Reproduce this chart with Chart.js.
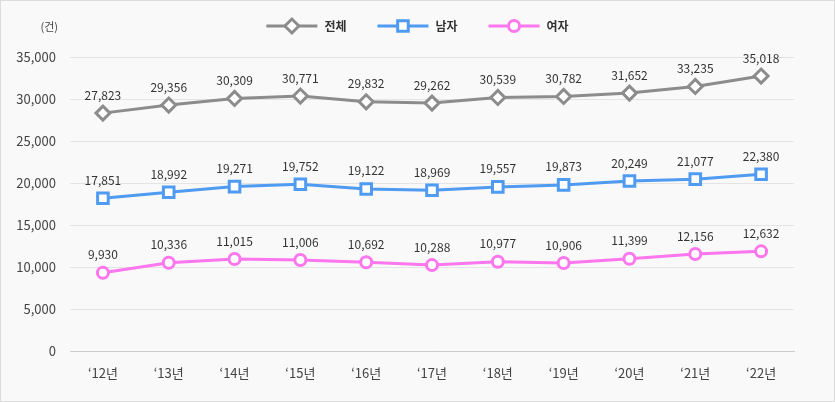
<!DOCTYPE html>
<html>
<head>
<meta charset="utf-8">
<script src="https://cdn.jsdelivr.net/npm/chart.js@4/dist/chart.umd.min.js"></script>
<style>
  body { margin: 0; background: #f9f9f9; }
  canvas { display: block; }
</style>
</head>
<body>
<canvas id="grafica" width="835" height="402"></canvas>
<script>
// datos del gráfico
const years = ['‘12년', '‘13년', '‘14년', '‘15년', '‘16년', '‘17년', '‘18년', '‘19년', '‘20년', '‘21년', '‘22년'];
const seriesNames = ['전체', '남자', '여자'];

// posiciones dibujadas
const totalValues = [28330, 29290, 30070, 30360, 29680, 29520, 30190, 30310, 30710, 31500, 32740];
const maleValues = [18210, 18930, 19600, 19880, 19320, 19170, 19560, 19800, 20270, 20480, 21070];
const femaleValues = [9360, 10550, 10990, 10870, 10600, 10270, 10670, 10510, 11020, 11580, 11900];

// etiquetas mostradas sobre cada punto
const totalLabels = ['27,823', '29,356', '30,309', '30,771', '29,832', '29,262', '30,539', '30,782', '31,652', '33,235', '35,018'];
const maleLabels = ['17,851', '18,992', '19,271', '19,752', '19,122', '18,969', '19,557', '19,873', '20,249', '21,077', '22,380'];
const femaleLabels = ['9,930', '10,336', '11,015', '11,006', '10,692', '10,288', '10,977', '10,906', '11,399', '12,156', '12,632'];

const yTicks = [0, 5000, 10000, 15000, 20000, 25000, 30000, 35000];

const FONT = "'Noto Sans CJK KR', 'Noto Sans', sans-serif";
const colores = ['#8c8c8c', '#4f9bf2', '#fc76ee'];
const estilos = ['rectRot', 'rect', 'circle'];
const radios = [7, 7.5, 5.5];
const etiquetas = [totalLabels, maleLabels, femaleLabels];

const fondo = {
    id: 'fondo',
    beforeDraw(chart) {
        const c = chart.ctx;
        c.save();
        c.fillStyle = '#f9f9f9';
        c.fillRect(0, 0, chart.width, chart.height);
        c.strokeStyle = '#dcdcdc';
        c.lineWidth = 1;
        c.strokeRect(0.5, 0.5, chart.width - 1, chart.height - 1);
        // unidad
        c.fillStyle = '#444';
        c.font = '11px ' + FONT;
        c.textAlign = 'right';
        c.textBaseline = 'middle';
        c.fillText('(건)', 58, 27);
        c.restore();
    }
};

const dibujarMarca = (c, estilo, x, y, r) => {
    c.beginPath();
    if (estilo === 'rectRot') {
        c.moveTo(x, y - r); c.lineTo(x + r, y); c.lineTo(x, y + r); c.lineTo(x - r, y); c.closePath();
    } else if (estilo === 'rect') {
        const s = r * Math.SQRT1_2;
        c.rect(x - s, y - s, 2 * s, 2 * s);
    } else {
        c.arc(x, y, r, 0, Math.PI * 2);
    }
    c.fill();
    c.stroke();
};

const leyenda = {
    id: 'leyenda',
    afterDraw(chart) {
        const c = chart.ctx;
        c.save();
        c.font = 'bold 12px ' + FONT;
        const lineLen = 51, gap = 7, sep = 31;
        const anchos = seriesNames.map(n => lineLen + gap + c.measureText(n).width);
        const total = anchos.reduce((a, b) => a + b, 0) + sep * (seriesNames.length - 1);
        let x = (chart.width - total) / 2;
        const y = 26;
        seriesNames.forEach((n, i) => {
            c.strokeStyle = colores[i];
            c.lineWidth = 3;
            c.beginPath();
            c.moveTo(x, y); c.lineTo(x + lineLen, y);
            c.stroke();
            c.fillStyle = '#fff';
            dibujarMarca(c, estilos[i], x + lineLen / 2, y, radios[i]);
            c.fillStyle = '#333';
            c.textAlign = 'left';
            c.textBaseline = 'middle';
            c.fillText(n, x + lineLen + gap, y);
            x += anchos[i] + sep;
        });
        c.restore();
    }
};

const valores = {
    id: 'valores',
    afterDatasetsDraw(chart) {
        const c = chart.ctx;
        c.save();
        c.font = '12px ' + FONT;
        c.fillStyle = '#333';
        c.textAlign = 'center';
        c.textBaseline = 'middle';
        chart.data.datasets.forEach((ds, i) => {
            chart.getDatasetMeta(i).data.forEach((p, j) => {
                c.fillText(etiquetas[i][j], p.x, p.y - 18);
            });
        });
        c.restore();
    }
};

const datasets = [totalValues, maleValues, femaleValues].map((vals, i) => ({
    label: seriesNames[i],
    data: vals,
    borderColor: colores[i],
    backgroundColor: '#fff',
    borderWidth: 3,
    pointStyle: estilos[i],
    pointRadius: radios[i],
    pointBorderWidth: 3,
    pointBackgroundColor: '#fff',
    pointBorderColor: colores[i],
    tension: 0
}));

new Chart(document.getElementById('grafica'), {
    type: 'line',
    data: { labels: years, datasets: datasets },
    options: {
        responsive: false,
        animation: false,
        layout: { padding: { top: 57, right: 41, bottom: 0, left: 0 } },
        plugins: { legend: { display: false }, tooltip: { enabled: false } },
        scales: {
            x: {
                offset: true,
                grid: { display: false, drawTicks: false },
                border: { display: true, color: '#cccccc', width: 1 },
                ticks: { color: '#444', font: { family: FONT, size: 13 }, padding: 14 },
                afterFit(s) { s.height = 50.5; }
            },
            y: {
                min: 0,
                max: 35000,
                afterBuildTicks(s) { s.ticks = yTicks.map(v => ({ value: v })); },
                grid: { color: '#e4e4e4', drawTicks: false },
                border: { display: false },
                ticks: {
                    color: '#444',
                    font: { family: FONT, size: 13 },
                    padding: 14,
                    callback: v => v.toLocaleString('en-US')
                },
                afterFit(s) { s.width = 70; }
            }
        }
    },
    plugins: [fondo, leyenda, valores]
});
</script>
</body>
</html>
